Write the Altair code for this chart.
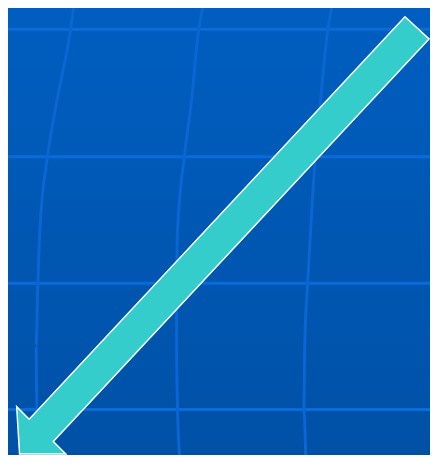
import altair as alt
import pandas as pd

# Canvas extents (data units)
X_DOMAIN = [0, 438]
Y_DOMAIN = [0, 463]

# Horizontal grid positions
hline_y = [22, 154, 285, 416]

# Curved vertical grid lines (x at given y)
curve_y = [0, 22, 100, 154, 231, 285, 350, 416, 463]
curve1_x = [68, 65, 50, 41, 33, 31, 29, 30, 31]
curve2_x = [202, 198, 190, 183, 176, 175, 175, 176, 178]
curve3_x = [336, 332, 324, 319, 314, 311, 308, 307, 309]

# Arrow outline vertices
arrow_x = [412, 437, 47, 60, 12, 9, 22]
arrow_y = [9, 32, 449, 462, 462, 413, 426]

xs = alt.Scale(domain=X_DOMAIN, nice=False, zero=False)
ys = alt.Scale(domain=Y_DOMAIN, nice=False, zero=False, reverse=True)

bg_df = pd.DataFrame({"x": [X_DOMAIN[0]], "x2": [X_DOMAIN[1]], "y": [Y_DOMAIN[0]], "y2": [Y_DOMAIN[1]]})
bg = alt.Chart(bg_df).mark_rect(
    color=alt.Gradient(
        gradient="linear", x1=0, x2=0, y1=0, y2=1,
        stops=[alt.GradientStop(color="#005ec0", offset=0),
               alt.GradientStop(color="#0051a6", offset=1)],
    )
).encode(
    x=alt.X("x:Q", scale=xs, axis=None), x2="x2",
    y=alt.Y("y:Q", scale=ys, axis=None), y2="y2",
)

h_df = pd.DataFrame({"y": hline_y})
hlines = alt.Chart(h_df).mark_rule(color="#0a6cd8", strokeWidth=3).encode(
    y=alt.Y("y:Q", scale=ys, axis=None)
)

rows = []
for cid, cx in enumerate([curve1_x, curve2_x, curve3_x]):
    for i, (x, y) in enumerate(zip(cx, curve_y)):
        rows.append({"c": cid, "i": i, "x": x, "y": y})
v_df = pd.DataFrame(rows)
vlines = alt.Chart(v_df).mark_line(color="#0a66d2", strokeWidth=3, interpolate="monotone").encode(
    x=alt.X("x:Q", scale=xs, axis=None),
    y=alt.Y("y:Q", scale=ys, axis=None),
    detail="c:N",
    order="i:Q",
)

a_df = pd.DataFrame({"i": range(len(arrow_x)), "x": arrow_x, "y": arrow_y})
arrow = alt.Chart(a_df).mark_line(
    fill="#35cdcc", stroke="white", strokeWidth=1.5, interpolate="linear-closed", strokeJoin="miter"
).encode(
    x=alt.X("x:Q", scale=xs, axis=None),
    y=alt.Y("y:Q", scale=ys, axis=None),
    order="i:Q",
)

chart = alt.layer(bg, hlines, vlines, arrow).properties(
    width=422, height=447, padding=0,
    autosize=alt.AutoSizeParams(type="none"),
    background="#0057b3",
).configure_view(stroke=None)

chart.save("out.html", embed_options={"renderer": "svg", "actions": False})
